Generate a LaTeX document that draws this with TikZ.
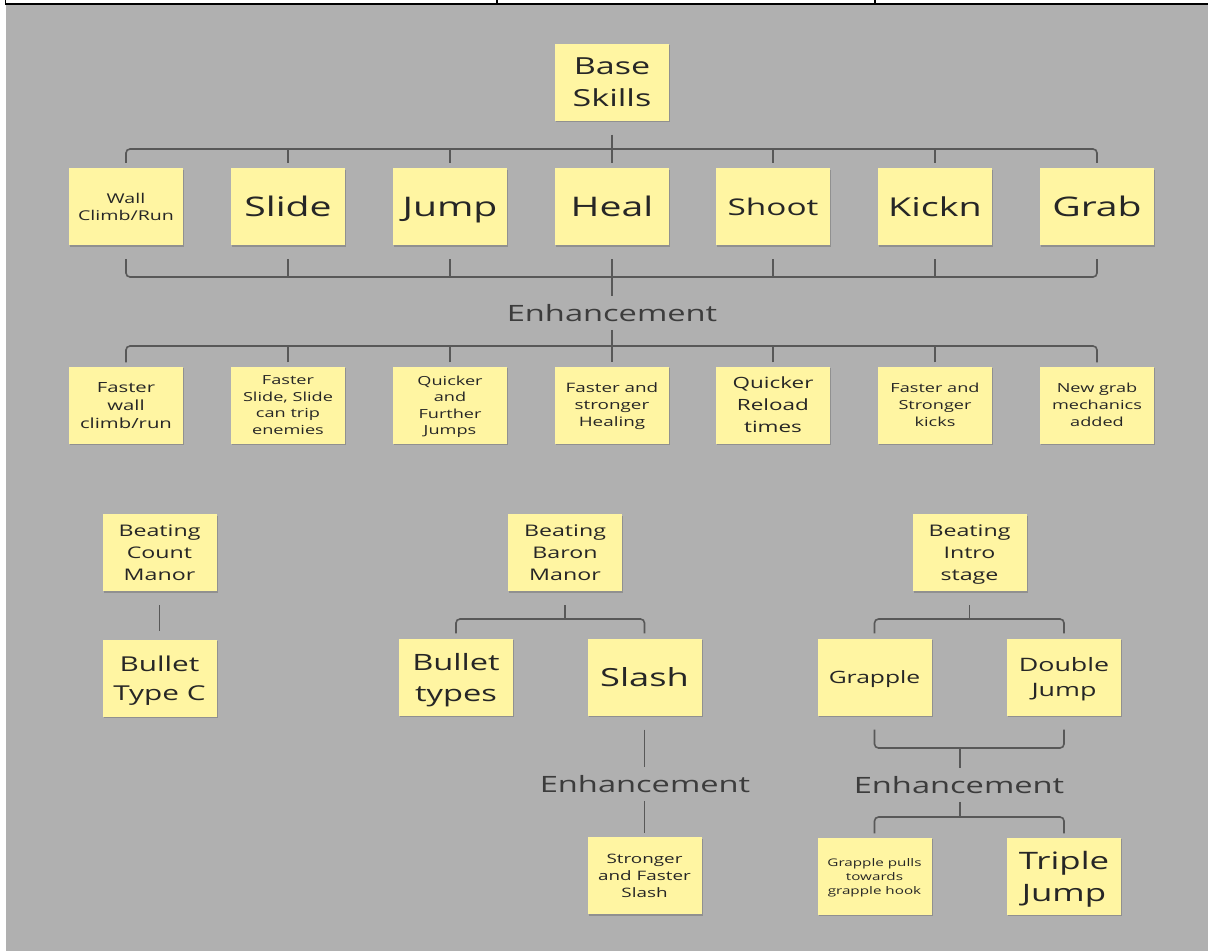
\documentclass[tikz,border=0pt]{standalone}
\usepackage{fontspec}
\setmainfont[FakeStretch=1.45]{Open Sans}
\usetikzlibrary{shadows}
\definecolor{bgrey}{RGB}{176,176,176}
\definecolor{notey}{RGB}{255,245,162}
\definecolor{conngrey}{RGB}{88,88,88}
\definecolor{txt}{RGB}{38,38,38}
\newcommand{\fsz}[2]{\fontsize{#1}{#2}\selectfont}
\tikzset{
  note/.style={fill=notey, draw=none, minimum width=114pt, minimum height=77pt,
    inner sep=0pt, align=center, text=txt, text depth=0pt,
    drop shadow={shadow xshift=1.2pt, shadow yshift=-1.6pt, opacity=0.18, fill=black}},
  enhlabel/.style={inner xsep=0pt, inner ysep=8pt, text=txt!90, font=\fsz{22.5}{28}},
  conn/.style={draw=conngrey, line width=1.6pt, rounded corners=4pt},
}
\begin{document}
\begin{tikzpicture}[x=1pt,y=-1pt]
\useasboundingbox (0,0) rectangle (1208,951);
\fill[white] (0,0) rectangle (1208,951);
\fill[bgrey] (6,5) rectangle (1208,951);
\draw[black, line width=2pt] (5,3.5) -- (1208,3.5);
\draw[black, line width=1.5pt] (5.5,0) -- (5.5,4.5);
\draw[black, line width=1.5pt] (497,0) -- (497,4.5);
\draw[black, line width=1.5pt] (875,0) -- (875,4.5);

% top
\node[note, font=\fsz{23.5}{32}] (base) at (612,82) {Base\\Skills};

% row 1
\node[note, font=\fsz{13.5}{17}] (wall) at (126,206.5) {Wall\\Climb/Run};
\node[note, font=\fsz{27}{34}] (slide) at (288,206.5) {Slide};
\node[note, font=\fsz{27}{34}] (jump) at (450,206.5) {Jump};
\node[note, font=\fsz{27}{34}] (heal) at (612,206.5) {Heal};
\node[note, font=\fsz{23}{30}] (shoot) at (773,206.5) {Shoot};
\node[note, font=\fsz{26}{34}] (kick) at (935,206.5) {Kickn};
\node[note, font=\fsz{27}{34}] (grab) at (1097,206.5) {Grab};

\node[enhlabel] (enh1) at (612,313) {Enhancement};

% row 2
\node[note, font=\fsz{14}{18}] (wall2) at (126,405) {Faster\\wall\\climb/run};
\node[note, font=\fsz{12.5}{16.5}] (slide2) at (288,405) {Faster\\Slide, Slide\\can trip\\enemies};
\node[note, font=\fsz{12.5}{16.5}] (jump2) at (450,405) {Quicker\\and\\Further\\Jumps};
\node[note, font=\fsz{13}{17}] (heal2) at (612,405) {Faster and\\stronger\\Healing};
\node[note, font=\fsz{15.5}{22}] (shoot2) at (773,405) {Quicker\\Reload\\times};
\node[note, font=\fsz{12.5}{17}] (kick2) at (935,405) {Faster and\\Stronger\\kicks};
\node[note, font=\fsz{12.5}{17}] (grab2) at (1097,405) {New grab\\mechanics\\added};

% bottom left
\node[note, font=\fsz{16}{22}] (count) at (159.5,552.5) {Beating\\Count\\Manor};
\node[note, font=\fsz{20.5}{29}] (bulletc) at (159.5,678) {Bullet\\Type C};

% bottom middle
\node[note, font=\fsz{16}{22}] (baron) at (565,552.5) {Beating\\Baron\\Manor};
\node[note, font=\fsz{22.5}{31}] (btypes) at (456,677) {Bullet\\types};
\node[note, font=\fsz{25}{32}] (slash) at (644.5,677) {Slash};
\node[enhlabel] (enh2) at (645,784) {Enhancement};
\node[note, font=\fsz{13}{17}] (ssf) at (644.5,875.5) {Stronger\\and Faster\\Slash};

% bottom right
\node[note, font=\fsz{16}{22}] (intro) at (969.5,552.5) {Beating\\Intro\\stage};
\node[note, font=\fsz{17}{24}] (grapple) at (874.5,677) {Grapple};
\node[note, font=\fsz{18.5}{25}] (dbl) at (1064,677) {Double\\Jump};
\node[enhlabel] (enh3) at (959,785) {Enhancement};
\node[note, font=\fsz{10.5}{14}] (gpull) at (874.5,876) {Grapple pulls\\towards\\grapple hook};
\node[note, font=\fsz{24}{32}] (triple) at (1064,876) {Triple\\Jump};

% bar coordinates
\coordinate (topbar) at (612,149);
\coordinate (botbar) at (612,277);
\coordinate (enhbar) at (612,346);
\coordinate (baronbar) at (565,619);
\coordinate (introbar) at (969.5,619);
\coordinate (introlow) at (960,748);
\coordinate (introbar2) at (960,817);

% top bracket
\draw[conn] ([yshift=5pt]wall.north) |- (topbar) -| ([yshift=5pt]grab.north);
\foreach \n in {slide,jump,shoot,kick}
  \draw[conn] ([yshift=5pt]\n.north) -- (\n.north |- topbar);
\draw[conn] ([yshift=-14pt]base.south) -- ([yshift=5pt]heal.north);

% row 1 bottom bracket
\draw[conn] ([yshift=-14pt]wall.south) |- (botbar) -| ([yshift=-14pt]grab.south);
\foreach \n in {slide,jump,shoot,kick}
  \draw[conn] ([yshift=-14pt]\n.south) -- (\n.south |- botbar);
\draw[conn] ([yshift=-14pt]heal.south) -- (enh1.north);

% enhancement bracket
\draw[conn] ([yshift=4pt]wall2.north) |- (enhbar) -| ([yshift=4pt]grab2.north);
\foreach \n in {slide2,jump2,shoot2,kick2}
  \draw[conn] ([yshift=4pt]\n.north) -- (\n.north |- enhbar);
\draw[conn] (enh1.south) -- ([yshift=4pt]heal2.north);

% count manor
\draw[conn] ([yshift=-14pt]count.south) -- ([yshift=8pt]bulletc.north);

% baron manor
\draw[conn] ([yshift=-14pt]baron.south) -- (baronbar);
\draw[conn] ([yshift=5pt]btypes.north) |- (baronbar) -| ([yshift=5pt]slash.north);
\draw[conn] ([yshift=-14pt]slash.south) -- (slash.south |- enh2.north);
\draw[conn] (slash.south |- enh2.south) -- ([yshift=4pt]ssf.north);

% intro stage
\draw[conn] ([yshift=-14pt]intro.south) -- (introbar);
\draw[conn] ([yshift=5pt]grapple.north) |- (introbar) -| ([yshift=5pt]dbl.north);
\draw[conn] ([yshift=-14pt]grapple.south) |- (introlow) -| ([yshift=-14pt]dbl.south);
\draw[conn] (introlow) -- (introlow |- enh3.north);
\draw[conn] (introbar2 |- enh3.south) -- (introbar2);
\draw[conn] ([yshift=4pt]gpull.north) |- (introbar2) -| ([yshift=4pt]triple.north);
\end{tikzpicture}
\end{document}
